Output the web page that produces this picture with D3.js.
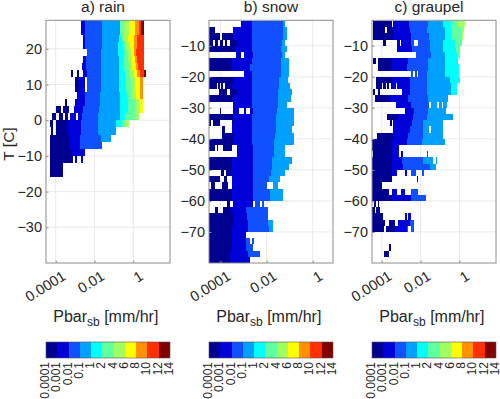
<!DOCTYPE html>
<meta charset="utf-8">
<style>
body { margin: 0; background: #fff; }
text { font-family: "Liberation Sans", sans-serif; fill: #262626; }
</style>
<body>
<script src="https://d3js.org/d3.v7.min.js"></script>
<script>
// rows: [T at top of 2 degree row, first colour level, log10(P) band edges...]
var rainRows = [
  [28, 1, -2.7, -2.5, -1.6, -.7, -.7, -.5, -.2, .07, .3, .4, .57],
  [26, 1, -2.7, -2.5, -1.6, -.7, -.7, -.5, -.2, .07, .3, .4, .57],
  [24, 1, -2.6, -2.5, -1.6, -.75, -.6, -.45, -.25, .03, .2, .55, .55],
  [22, 1, -2.6, -2.5, -1.6, -.8, -.55, -.35, -.15, .03, .2, .55, .55],
  [20, 1, -2.4, -2.4, -1.65, -.8, -.5, -.3, -.1, .05, .15, .55, .55],
  [18, 1, -2.6, -2.45, -1.65, -.75, -.45, -.25, -.05, .1, .2, .55, .55],
  [16, 1, -2.65, -2.45, -1.65, -.75, -.45, -.2, -.05, .12, .25, .55, .55],
  [14, 0, -3.2, -2.8, -2.4, -1.65, -.75, -.4, -.15, .02, .2, .35, .55, .67],
  [12, 0, -3, -2.8, -2.4, -1.65, -.72, -.36, -.1, .1, .33, .53, .53],
  [10, 0, -3, -2.8, -2.4, -1.65, -.72, -.36, -.1, .1, .33, .53, .53],
  [8, 1, -2.9, -2.5, -1.7, -.7, -.32, -.08, .12, .36, .5],
  [6, 0, -3.5, -3.3, -2.5, -1.73, -.7, -.27, .07, .3, .5],
  [4, 0, -3.97, -3.3, -2.6, -1.75, -.7, -.28, .07, .28, .5],
  [2, 0, -4.2, -3.36, -2.65, -1.8, -.7, -.4, .07, .29],
  [0, 0, -4.3, -3.36, -2.68, -1.82, -.88, -.62, -.4, -.22],
  [-2, 0, -4.22, -3.36, -2.68, -1.82, -.91],
  [-4, 0, -4.3, -3.3, -2.75, -1.65, -1.12],
  [-6, 0, -4.3, -3.3, -2.75, -1.6],
  [-8, 0, -4.3, -3.14, -2.5],
  [-10, 0, -4.3, -3, -2.6],
  [-12, 0, -4.3, -3.62],
  [-14, 0, -4.3, -3.62]
];
// gaps: [T at top of row, log10(P) from, log10(P) to]
var rainGaps = [
  [14, -3.1, -2.9], [14, -2.8, -2.6], [12, -2.5, -2.4], [10, -2.5, -2.4],
  [6, -3.4, -3], [4, -3.75, -3.6], [4, -3.3, -3.05], [2, -4, -3.85], [2, -3.6, -3.5],
  [2, -3.36, -3.28], [2, -2.97, -2.85], [0, -4.13, -4], [-2, -4.13, -4],
  [-10, -3.1, -3], [-10, -2.9, -2.7]
];

var snowRows = [
  [-2, 1, -3.09, -2.62, -1.28, -1.2],
  [-4, 0, -4.5, -3.45, -2.62, -1.28, -1.1],
  [-6, 0, -4.5, -3.45, -2.65, -1.28, -1.1],
  [-8, 0, -4.5, -3.3, -2.65, -1.35, -1.2],
  [-10, 0, -4.5, -3.38, -2.65, -1.39, -1.13],
  [-12, 1, -3.35, -2.58, -1.35, -1.2],
  [-14, 0, -4.5, -3.52, -2.65, -1.39, -1.01],
  [-16, 0, -4.5, -3.52, -2.7, -1.39, -1.01],
  [-18, 1, -3, -2.65, -1.39, -1.01],
  [-20, 0, -4.5, -3.45, -2.65, -1.45, -1.06],
  [-22, 0, -4.5, -3.5, -2.65, -1.45, -.99],
  [-24, 0, -4.5, -3.3, -2.65, -1.49, -.91],
  [-26, 0, -4.5, -3.45, -2.65, -1.49, -.94],
  [-28, 1, -3.45, -2.65, -1.49, -1.13],
  [-30, 0, -4.03, -3.45, -2.6, -1.54, -.81],
  [-32, 0, -4.5, -3.45, -2.65, -1.59, -.81],
  [-34, 0, -4.5, -3.45, -2.65, -1.59, -.81],
  [-36, 0, -3.93, -3.52, -2.65, -1.59, -.91],
  [-38, 0, -3.93, -3.45, -2.65, -1.62, -.81],
  [-40, 0, -4.5, -3.45, -2.65, -1.68, -.81],
  [-42, 0, -4.5, -3.45, -2.6, -1.68, -1.2],
  [-44, 1, -3.3, -2.58, -1.68, -1.2],
  [-46, 0, -4.5, -3.52, -2.58, -1.78, -.91],
  [-48, 0, -4.5, -3.52, -2.58, -1.78, -1.01],
  [-50, 0, -4, -3.52, -2.58, -1.83, -1.2],
  [-52, 0, -4.5, -3.52, -2.58, -1.88, -1.42],
  [-54, 0, -4.4, -3.52, -2.6, -2, -1.49],
  [-56, 0, -4.5, -3.52, -2.6, -1.86, -1.3],
  [-58, 0, -4.5, -3.52, -2.6, -1.86, -1.3],
  [-60, 0, -3.74, -3.45, -2.6, -2.12],
  [-62, 0, -4.25, -3.52, -2.9, -1.93],
  [-64, 0, -4.5, -3.45, -2.87, -1.93],
  [-66, 0, -4.5, -3.45, -2.8, -1.93, -1.71],
  [-68, 0, -4.5, -3.5, -2.8, -1.9, -1.71],
  [-70, 0, -4.5, -3.52, -2.9],
  [-72, 0, -4.5, -3.52, -2.9, -2.55],
  [-74, 0, -4.5, -3.52, -2.9, -2.58],
  [-76, 0, -4.5, -3.6, -2.8, -2.3],
  [-78, 0, -4.5, -3.6, -2.72]
];
var snowGaps = [
  [-4, -4.25, -3.45], [-6, -4.03, -3.93], [-8, -4.32, -4.22], [-8, -4.1, -4.03],
  [-8, -3.91, -3.81], [-8, -3.74, -3.59], [-12, -3.12, -3], [-22, -4.17, -4.1],
  [-22, -4.03, -3.96], [-22, -3.88, -3.81], [-24, -4.5, -4.08], [-24, -3.74, -3.59],
  [-30, -3.96, -3.45], [-30, -3.2, -3], [-30, -2.9, -2.72], [-34, -4.42, -4.32],
  [-34, -4.03, -3.52], [-36, -3.81, -3.52], [-42, -4.25, -4.17], [-42, -4.1, -3.88],
  [-42, -3.52, -3.3], [-50, -3.85, -3.75], [-52, -4.03, -3.85], [-52, -3.7, -3.52],
  [-54, -4.25, -3.93], [-54, -3.68, -3.52], [-54, -2, -1.71], [-60, -3.59, -3.45],
  [-60, -2.6, -2.5], [-60, -2.29, -2.22], [-62, -4.1, -3.88], [-72, -2.72, -2.62]
];

var graupelRows = [
  [-2, 0, -4.43, -3.4, -2.58, -1.62, -.84, -.46, -.05, .27],
  [-4, 0, -4.43, -3.4, -2.55, -1.69, -.75, -.41, .1, .24],
  [-6, 0, -4.43, -3.36, -2.5, -1.55, -.75, -.41, .1, .19],
  [-8, 0, -4.43, -3.2, -2.5, -1.52, -.84, -.24, .14],
  [-10, 1, -3.23, -2.45, -1.52, -.84, -.2, .05],
  [-12, 2, -2.25, -1.49, -.75, -.15, .05],
  [-14, 0, -4.43, -3.49, -2.63, -1.62, -.75, -.07],
  [-16, 0, -4.2, -3.49, -2.68, -1.62, -.75, -.02],
  [-18, 2, -2.5, -1.66, -.75, -.02],
  [-20, 0, -4.3, -3.49, -2.55, -1.69, -.5, .05],
  [-22, 0, -4.43, -3.49, -2.55, -1.69, -.41, -.15],
  [-24, 0, -4.43, -2.97, -2.55, -1.69, -.41, -.15],
  [-26, 0, -4.35, -3.57, -2.63, -1.62, -.58],
  [-28, 1, -3.29, -2.5, -1.55, -.63],
  [-30, 1, -2.8, -2.35, -1.6, -.67],
  [-32, 0, -3.74, -3.14, -2.38, -1.69, -.32],
  [-34, 0, -3.57, -3.4, -2.45, -1.86, -.84],
  [-36, 1, -3.4, -2.55, -1.89, -.87],
  [-38, 0, -4.26, -3.4, -2.63, -1.89, -.84],
  [-40, 0, -4.5, -3.49, -2.72, -1.93, -.73],
  [-42, 0, -4.5, -3.49, -3.09],
  [-44, 0, -4.43, -3.49, -2.9, -1.61],
  [-46, 0, -4.5, -3.49, -2.97, -1.86, -1.13],
  [-48, 0, -4.5, -3.49, -2.92, -1.52, -1.23],
  [-50, 0, -4.5, -3.49, -2.55, -1.83],
  [-52, 0, -4.5, -3.49, -2.12],
  [-54, 0, -4.5, -4],
  [-56, 0, -4.5, -3.49, -2.5, -2.12],
  [-58, 0, -4.5, -3.53, -2.5, -1.73],
  [-60, 0, -4.38, -4.15],
  [-62, 0, -4.5, -4.1],
  [-64, 0, -4.5, -3.92, -2.5],
  [-66, 0, -4.5, -3.2, -2.55, -2.32],
  [-68, 0, -4.5, -3.32, -2.7, -2.32],
  [-74, 0, -3.6, -3.5],
  [-76, 0, -3.9, -3.6]
];
var graupelGaps = [
  [-2, -3.49, -3.4], [-4, -3.83, -3.71], [-8, -4.43, -3.92], [-8, -3.78, -3.23],
  [-8, -3.06, -2.99], [-8, -2.33, -2.12], [-14, -4.3, -4.2], [-18, -2.38, -2.31],
  [-18, -2.2, -2.12], [-22, -4.43, -4.3], [-22, -4, -3.92], [-22, -3.8, -3.71],
  [-22, -3.6, -3.52], [-22, -3.26, -3.19], [-24, -4.35, -4.2], [-24, -4.08, -2.97],
  [-28, -1.55, -1.44], [-28, -1.15, -1.06], [-28, -.92, -.84], [-34, -3.49, -3.4],
  [-36, -1.55, -1.44], [-44, -3.09, -3.03], [-44, -2.9, -1.69], [-46, -1.35, -1.21],
  [-50, -3.23, -2.8], [-50, -2.72, -2.5], [-50, -2.24, -1.95], [-52, -3.49, -2.2],
  [-56, -3.6, -3.49], [-56, -3.23, -3], [-56, -2.8, -2.5], [-60, -4.3, -4.2],
  [-62, -4.35, -4.3], [-64, -3.92, -2.8], [-64, -2.72, -2.63], [-66, -3.83, -3.6],
  [-66, -3.3, -3.18], [-68, -3.9, -3.8], [-68, -2.63, -2.5]
];

var levelColors = ["#000090", "#0000d8", "#1050ff", "#00a0ff", "#00ffff", "#60ffa0", "#a0ff60", "#ffff00", "#ff9000", "#ff3000", "#800000"];
var barLabels = ["0.0001", "0.001", "0.01", "0.1", "1", "2", "4", "6", "8", "10", "12", "14"];
var xTicks = [0.0001, 0.01, 1];
var rainTicks = [20, 10, 0, -10, -20, -30];
var iceTicks = [-10, -20, -30, -40, -50, -60, -70];

var panels = [
  {title: "a) rain", titleX: 57, left: 46, rows: rainRows, gaps: rainGaps, logMax: 1.9, T: [-40, 28], ticks: rainTicks},
  {title: "b) snow", titleX: 62, left: 209, rows: snowRows, gaps: snowGaps, logMax: 0.88, T: [-80, -1.8], ticks: iceTicks},
  {title: "c) graupel", titleX: 57, left: 372, rows: graupelRows, gaps: graupelGaps, logMax: 1.88, T: [-80, -1.8], ticks: iceTicks}
];

var width = 500,
    height = 399,
    panelWidth = 124,
    plotTop = 20.3,
    plotBottom = 263,
    barTop = 342,
    barBottom = 358,
    frameColor = "#8c8c8c";

var svg = d3.select("body").append("svg")
    .attr("width", width)
    .attr("height", height)
    .style("display", "block");

panels.forEach(function(p, n) {
  var x = d3.scaleLog().domain([Math.pow(10, -4.5), Math.pow(10, p.logMax)]).range([0, panelWidth]);
  var y = d3.scaleLinear().domain(p.T).range([plotBottom, plotTop]);
  var X = function(v) { return x(Math.pow(10, v)); };
  var g = svg.append("g").attr("transform", "translate(" + p.left + ",0)");

  // grid sits under the cells
  g.append("g").selectAll("line").data(xTicks).join("line")
      .attr("x1", d => x(d)).attr("x2", d => x(d))
      .attr("y1", plotTop).attr("y2", plotBottom)
      .attr("stroke", "#e4e4e4").attr("stroke-width", 0.8);
  g.append("g").selectAll("line").data(p.ticks).join("line")
      .attr("x1", 0).attr("x2", panelWidth)
      .attr("y1", d => y(d)).attr("y2", d => y(d))
      .attr("stroke", "#e4e4e4").attr("stroke-width", 0.8);

  var mask = svg.append("mask").attr("id", "gaps" + n)
      .attr("maskUnits", "userSpaceOnUse")
      .attr("x", -60).attr("y", 0).attr("width", width).attr("height", height);
  mask.append("rect").attr("x", -60).attr("y", 0).attr("width", width).attr("height", height).attr("fill", "#fff");
  mask.selectAll("rect.gap").data(p.gaps).join("rect")
      .attr("class", "gap")
      .attr("shape-rendering", "crispEdges")
      .attr("x", d => X(d[1]))
      .attr("width", d => X(d[2]) - X(d[1]))
      .attr("y", d => y(d[0]))
      .attr("height", d => y(d[0] - 2) - y(d[0]))
      .attr("fill", "#000");

  var cells = [];
  p.rows.forEach(function(r) {
    for (var i = 2; i < r.length - 1; i++) {
      cells.push({T: r[0], level: r[1] + i - 2, x0: r[i], x1: r[i + 1]});
    }
  });

  g.append("g").attr("mask", "url(#gaps" + n + ")")
      .attr("shape-rendering", "crispEdges")
      .selectAll("rect").data(cells).join("rect")
      .attr("x", d => X(d.x0))
      .attr("width", d => Math.max(0, X(d.x1) - X(d.x0)))
      .attr("y", d => Math.max(plotTop, y(d.T)))
      .attr("height", d => y(d.T - 2) - Math.max(plotTop, y(d.T)))
      .attr("fill", d => levelColors[d.level]);

  // axes with inward ticks, box drawn by hand
  var xAxis = g.append("g").attr("transform", "translate(0," + plotBottom + ")")
      .call(d3.axisBottom(x).tickValues(xTicks).tickSize(-2.5).tickPadding(6).tickFormat(d3.format("~r")));
  xAxis.selectAll("text")
      .attr("font-size", 14.5)
      .attr("text-anchor", "end")
      .attr("dx", "0.05em").attr("dy", "0.9em")
      .attr("transform", "rotate(-32)");

  var yAxis = g.append("g")
      .call(d3.axisLeft(y).tickValues(p.ticks).tickSize(-2.5).tickPadding(4).tickFormat(d3.format("d")));
  yAxis.selectAll("text").attr("font-size", 14.5);

  [xAxis, yAxis].forEach(function(a) {
    a.select(".domain").remove();
    a.selectAll("line").attr("stroke", frameColor);
  });

  g.append("rect")
      .attr("x", 0).attr("y", plotTop)
      .attr("width", panelWidth).attr("height", plotBottom - plotTop)
      .attr("fill", "none").attr("stroke", frameColor);

  g.append("text")
      .attr("x", p.titleX).attr("y", 12)
      .attr("text-anchor", "middle").attr("font-size", 15.5)
      .text(p.title);

  var xLabel = g.append("text")
      .attr("x", panelWidth / 2 - 2.2).attr("y", 322)
      .attr("text-anchor", "middle").attr("font-size", 16)
      .text("Pbar");
  xLabel.append("tspan").attr("font-size", 12).attr("dy", 4).text("sb");
  xLabel.append("tspan").attr("dy", -4).text(" [mm/hr]");

  // colour bar
  var barX = d3.scalePoint().domain(barLabels).range([0, panelWidth]);
  var bar = g.append("g");
  bar.selectAll("rect").data(levelColors).join("rect")
      .attr("shape-rendering", "crispEdges")
      .attr("x", (d, i) => barX(barLabels[i]))
      .attr("width", barX.step())
      .attr("y", barTop).attr("height", barBottom - barTop)
      .attr("fill", d => d);
  bar.append("rect")
      .attr("x", 0).attr("y", barTop)
      .attr("width", panelWidth).attr("height", barBottom - barTop)
      .attr("fill", "none").attr("stroke", "#555").attr("stroke-width", 0.6);
  bar.selectAll("text").data(barLabels).join("text")
      .attr("font-size", 12)
      .attr("text-anchor", "end")
      .attr("dominant-baseline", "central")
      .attr("transform", d => "translate(" + (barX(d) - 1) + "," + (barTop + 20) + ") rotate(-90)")
      .text(d => d);
});

svg.append("text")
    .attr("transform", "translate(14,144) rotate(-90)")
    .attr("text-anchor", "middle").attr("font-size", 15.5)
    .text("T [C]");
</script>
</html>
